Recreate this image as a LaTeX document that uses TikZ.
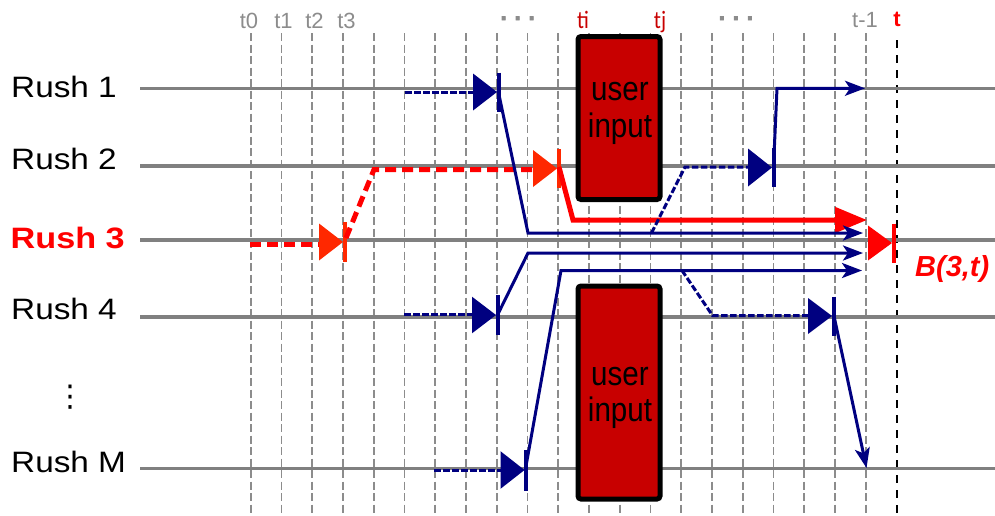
\documentclass[tikz,border=0pt]{standalone}
\usepackage{fontspec}
\setmainfont{Liberation Sans}
\newfontfamily\rushfont[FakeStretch=1.13]{Liberation Sans}
\newfontfamily\rushbold[FakeStretch=1.16]{Liberation Sans Bold}
\newfontfamily\boxfont[FakeStretch=0.87]{Liberation Sans}
\newfontfamily\calfont[FakeStretch=0.85]{Carlito}
\newfontfamily\dejafont{DejaVu Sans}
\newfontfamily\dotfont[FakeBold=3]{Liberation Sans Bold}
\usetikzlibrary{arrows.meta}
\definecolor{navy}{HTML}{000080}
\definecolor{boxred}{HTML}{C80000}
\definecolor{orred}{HTML}{FF2800}
\definecolor{gridgray}{HTML}{8C8C8C}
\definecolor{linegray}{HTML}{808080}
\begin{document}
\begin{tikzpicture}[x=1pt,y=-1pt,
  grid/.style={draw=gridgray, line width=1.6pt, dash pattern=on 8pt off 3.5pt},
  rushline/.style={draw=linegray, line width=3.6pt},
  rushlabel/.style={anchor=base west, inner sep=0pt, font=\rushfont\fontsize{29.5}{34}\selectfont},
  tlab/.style={anchor=base, inner sep=0pt, text=gridgray, font=\fontsize{22}{26}\selectfont},
  ijlab/.style={anchor=base, inner sep=0pt, text=boxred, font=\calfont\fontsize{25}{28}\selectfont},
  dotslab/.style={anchor=base, inner sep=0pt, text=gridgray, font=\dotfont\fontsize{23}{23}\selectfont},
  navydash/.style={draw=navy, line width=3pt, dash pattern=on 6.5pt off 2.5pt},
  navyline/.style={draw=navy, line width=3pt},
  navyarrow/.style={navyline, -{Stealth[length=20pt,width=15pt,inset=5pt]}},
  reddash/.style={draw=red, line width=5pt, dash pattern=on 11pt off 6pt},
  redarrow/.style={draw=red, line width=5pt, -{Triangle[length=32pt,width=25pt]}},
  userbox/.style={draw=black, fill=boxred, line width=5pt, rounded corners=3pt, inner sep=0pt},
  boxtext/.style={anchor=base, inner sep=0pt, font=\boxfont\fontsize{34}{40}\selectfont},
  pics/stopmark/.style n args={3}{code={
    \fill[#1] (0,0) -- (-24,-#2) -- (-24,#2) -- cycle;
    \draw[#1, line width=4pt] (1.5,-#3) -- (1.5,#3);}}
]
\useasboundingbox (0,0) rectangle (995,515);

% time grid
\foreach \k in {0,...,20} \draw[grid] (250.7+30.75*\k,33) -- (250.7+30.75*\k,513);
\draw[black, line width=1.3pt, dash pattern=on 8pt off 7pt] (897,40) -- (897,513);

% time labels
\node[tlab] (t0) at (249,28) {t0};
\node[tlab] (t1) at (283.5,28) {t1};
\node[tlab] (t2) at (314.5,28) {t2};
\node[tlab] (t3) at (346.5,28) {t3};
\node[tlab] (tm1) at (865,27) {t-1};
\node[tlab, text=red, font=\bfseries\fontsize{22}{26}\selectfont] (tt) at (897,26.5) {t};
\node[ijlab] (ti) at (583,28) {ti};
\node[ijlab] (tj) at (660,28) {tj};
\node[dotslab] (dots1) at (517.7,20) {.\kern7.6pt.\kern7.6pt.};
\node[dotslab] (dots2) at (735.8,20) {.\kern7.6pt.\kern7.6pt.};

% rush lines
\foreach \y in {88.3,165.7,240,316.7,468.3} \draw[rushline] (140,\y) -- (995,\y);

% rush labels
\node[rushlabel] (r1) at (11,97.7) {Rush 1};
\node[rushlabel] (r2) at (11,169.5) {Rush 2};
\node[rushlabel, text=red, font=\rushbold\fontsize{29.5}{34}\selectfont] (r3) at (10.5,248.3) {Rush 3};
\node[rushlabel] (r4) at (11,319.5) {Rush 4};
\node[inner sep=0pt, font=\dejafont\fontsize{30}{30}\selectfont] (vd) at (70,397) {⋮};
\node[rushlabel] (rM) at (11,472.7) {Rush M};

% red path (Rush 3 -> Rush 2 -> Rush 3)
\draw[reddash] (250,244) -- (321,244);
\pic at (343,242) {stopmark={orred}{18.5}{20}};
\draw[reddash] (346,238) -- (374,169.5) -- (535,169.5);
\pic at (557,168.5) {stopmark={orred}{18.5}{19.5}};
\draw[redarrow] (559,167) -- (573,220) -- (867,220);

% Rush 1 -> Rush 3
\draw[navydash] (405,92) -- (474,92);
\pic at (497,92) {stopmark={navy}{18.5}{19.5}};
\draw[navyarrow] (498,90) -- (528,233) -- (863,233);

% Rush 3 -> Rush 2 -> Rush 1
\draw[navydash] (651.5,233) -- (685,167) -- (748,167);
\pic at (772,167.5) {stopmark={navy}{19}{19.5}};
\draw[navyarrow] (773.5,167) -- (777,88.3) -- (865,88.3);

% Rush 4 -> Rush 3
\draw[navydash] (404,314) -- (472,314);
\pic at (496,315) {stopmark={navy}{18.3}{20}};
\draw[navyarrow] (497,316) -- (528,253) -- (863,253);

% Rush M -> Rush 3
\draw[navydash] (434,470.5) -- (503,470.5);
\pic at (524.5,470) {stopmark={navy}{18.8}{20.5}};
\draw[navyarrow] (526,466) -- (561,270.5) -- (862,270.5);

% Rush 3 -> Rush 4 -> Rush M
\draw[navydash] (682,270.5) -- (712.5,315.5) -- (808,315.5);
\pic at (832,316) {stopmark={navy}{18}{19.5}};
\draw[navyarrow] (834,316) -- (866.5,468);

% B(3,t)
\pic at (892,243) {stopmark={red}{17.5}{19.5}};
\node[anchor=base west, inner sep=0pt, text=red, font=\bfseries\itshape\fontsize{29}{34}\selectfont] (B) at (915,276) {B(3,t)};

% user input boxes
\node[userbox, minimum width=82pt, minimum height=163pt] (ui1) at (619,118) {};
\node[boxtext] (ui1a) at (620,100) {user};
\node[boxtext] (ui1b) at (620,137) {input};
\node[userbox, minimum width=82pt, minimum height=213pt] (ui2) at (619,392.5) {};
\node[boxtext] (ui2a) at (620,385) {user};
\node[boxtext] (ui2b) at (620,421.7) {input};
\end{tikzpicture}
\end{document}
